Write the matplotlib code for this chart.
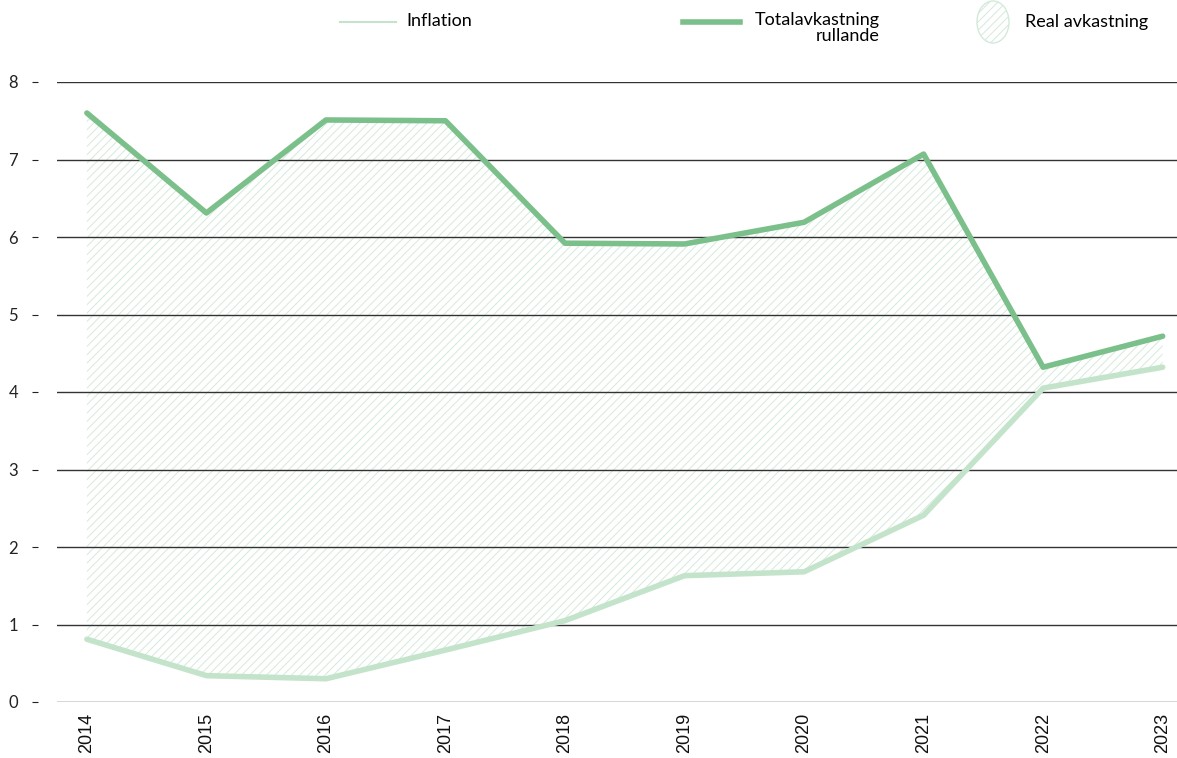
import matplotlib
matplotlib.use("Agg")
import matplotlib.pyplot as plt
from matplotlib.lines import Line2D
from matplotlib.patches import Ellipse

years = [2014, 2015, 2016, 2017, 2018, 2019, 2020, 2021, 2022, 2023]
total = [7.60, 6.31, 7.51, 7.50, 5.92, 5.91, 6.19, 7.07, 4.32, 4.72]
inflation = [0.81, 0.34, 0.30, 0.67, 1.05, 1.63, 1.68, 2.41, 4.05, 4.32]
yticks = [0, 1, 2, 3, 4, 5, 6, 7, 8]

c_total = "#7bc08b"
c_infl = "#c3e4cb"
c_hatch = "#d3eada"

plt.rcParams['font.family'] = ['Lato', 'DejaVu Sans']
plt.rcParams['hatch.linewidth'] = 0.7
plt.rcParams['hatch.color'] = c_hatch

fig = plt.figure(figsize=(11.77, 7.58), dpi=100)
ax = fig.add_axes([57 / 1177, 56 / 758, 1120 / 1177, 620 / 758])

# real return area between the two lines
ax.fill_between(years, inflation, total, facecolor="none", edgecolor=c_hatch,
                hatch="////", linewidth=0, zorder=1)
ax.plot(years, inflation, color=c_infl, lw=4, solid_capstyle="round", zorder=3)
ax.plot(years, total, color=c_total, lw=4, solid_capstyle="round", zorder=4)

for v in yticks:
    ax.axhline(v, color="#333333", lw=1, zorder=2)

ax.set_xlim(2013.75, 2023.12)
ax.set_ylim(0, 8)
ax.set_yticks(yticks)
ax.set_xticks(years)
ax.set_xticklabels([str(y) for y in years], rotation=90, va="top",
                   family=['Liberation Sans', 'DejaVu Sans'], fontsize=13)
ax.tick_params(axis="x", length=0, pad=8, colors="#111111")
ax.tick_params(axis="y", length=4, width=0.8, pad=10, labelsize=12,
               colors="#222222")
for s in ["top", "right", "bottom"]:
    ax.spines[s].set_visible(False)
ax.spines["left"].set_position(("outward", 14))
ax.spines["left"].set_visible(False)

# legend drawn by hand at the top
tf = fig.transFigure
W, H = 1177, 758
fig.add_artist(Line2D([340 / W, 396 / W], [1 - 22 / H, 1 - 22 / H], color=c_infl,
                      lw=1.5, transform=tf))
fig.text(406 / W, 1 - 21 / H, "Inflation", fontsize=13, va="center", ha="left")
fig.add_artist(Line2D([683 / W, 740 / W], [1 - 22 / H, 1 - 22 / H], color=c_total,
                      lw=4, transform=tf))
fig.text(880 / W, 1 - 12 / H, "Totalavkastning\nrullande", fontsize=13,
         va="top", ha="right", linespacing=1.0)
ell = Ellipse((993 / W, 1 - 22 / H), 32 / W, 42 / H, transform=tf,
              facecolor="none", edgecolor=c_hatch, hatch="////", lw=1)
fig.add_artist(ell)
fig.text(1025 / W, 1 - 22 / H, "Real avkastning", fontsize=13, va="center",
         ha="left")

fig.savefig("out.png", dpi=100)
